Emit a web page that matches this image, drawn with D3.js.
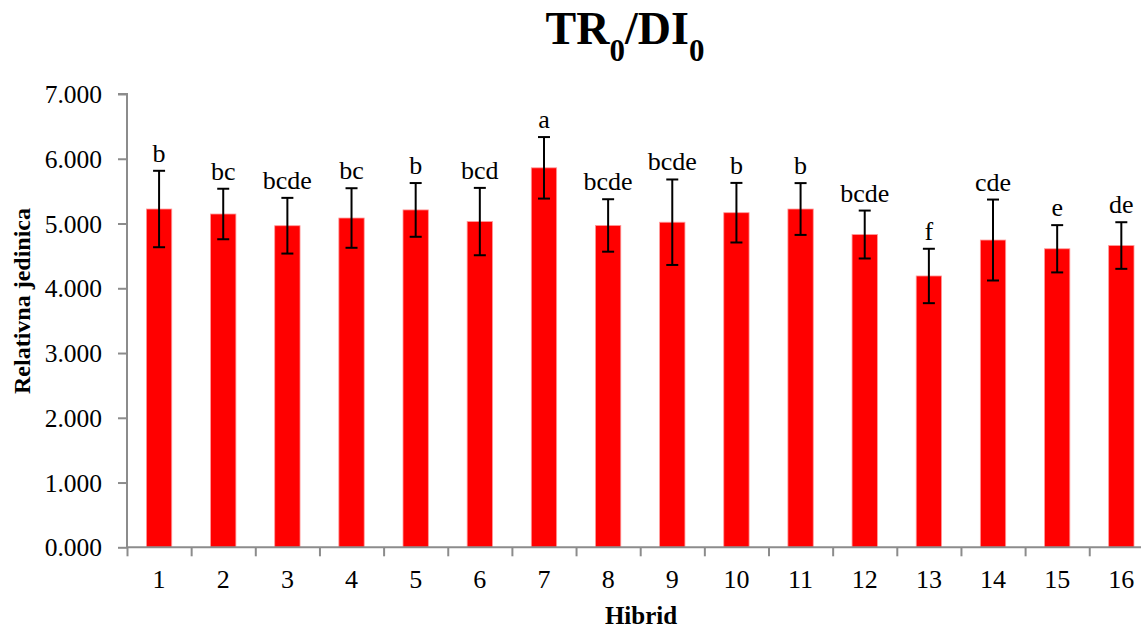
<!DOCTYPE html>
<html><head><meta charset="utf-8">
<script src="https://cdn.jsdelivr.net/npm/d3@7"></script>
<style>
html,body{margin:0;padding:0;background:#fff;}
svg{display:block;font-family:"Liberation Serif","Times New Roman",serif;}
</style></head>
<body>
<svg id="c" width="1141" height="629"></svg>
<script>
const categories = ["1","2","3","4","5","6","7","8","9","10","11","12","13","14","15","16"];
const values = [5.224,5.147,4.966,5.085,5.21,5.03,5.86,4.97,5.02,5.167,5.224,4.83,4.19,4.745,4.61,4.66];
const errors = [0.59,0.39,0.43,0.46,0.415,0.52,0.475,0.405,0.66,0.46,0.40,0.37,0.42,0.625,0.365,0.36];
const letters = ["b","bc","bcde","bc","b","bcd","a","bcde","bcde","b","b","bcde","f","cde","e","de"];
const yTicks = [0,1,2,3,4,5,6,7];

(function(){
const svg = d3.select("#c");
const pL = 127, pR = 1153.4, pT = 94, pB = 547.3;
const x = d3.scaleBand().domain(categories).range([pL, pR]).paddingInner(0).paddingOuter(0);
const xb = d3.scaleLinear().domain([0, categories.length]).range([pL, pR]);
const y = d3.scaleLinear().domain([0, 7]).range([pB, pT]);
const bw = x.bandwidth() * 0.395;
const axisColor = "#8c8c8c";
const serif = "'Liberation Serif','Times New Roman',serif";

// bars
svg.append("g").selectAll("rect").data(values).join("rect")
  .attr("x", (d,i) => x(categories[i]) + x.bandwidth()/2 - bw/2)
  .attr("y", d => y(d))
  .attr("width", bw)
  .attr("height", d => y(0) - y(d))
  .attr("fill", "#ff0000")
  .attr("stroke", "#ff9a9a")
  .attr("stroke-width", 0.8);

// error bars
const eg = svg.append("g").attr("stroke", "#000").attr("stroke-width", 2);
values.forEach((v,i) => {
  const cx = x(categories[i]) + x.bandwidth()/2;
  const t = y(v + errors[i]), b = y(v - errors[i]);
  eg.append("line").attr("x1", cx).attr("x2", cx).attr("y1", t).attr("y2", b);
  eg.append("line").attr("x1", cx-6).attr("x2", cx+6).attr("y1", t).attr("y2", t);
  eg.append("line").attr("x1", cx-6).attr("x2", cx+6).attr("y1", b).attr("y2", b);
});

// letters
svg.append("g").selectAll("text").data(letters).join("text")
  .attr("x", (d,i) => x(categories[i]) + x.bandwidth()/2)
  .attr("y", (d,i) => y(values[i] + errors[i]) - 9)
  .attr("text-anchor", "middle")
  .attr("font-size", 26)
  .attr("font-family", serif)
  .attr("fill", "#000")
  .text(d => d);

// y axis
const ya = svg.append("g").attr("transform", `translate(${pL},0)`)
  .call(d3.axisLeft(y).tickValues(yTicks).tickFormat(d3.format(".3f")).tickSize(9).tickPadding(16));
ya.attr("font-family", serif);
ya.select(".domain").attr("stroke", axisColor).attr("stroke-width", 2).attr("d", `M-9,${pT}H0V${pB}`);
ya.selectAll(".tick line").attr("stroke", axisColor).attr("stroke-width", 2);
ya.selectAll(".tick text").attr("font-size", 25.5).attr("font-family", serif).attr("fill", "#000").attr("dy", "0.34em");

// x axis
const xa = svg.append("g").attr("transform", `translate(0,${pB})`)
  .call(d3.axisBottom(xb).tickValues(d3.range(0, categories.length + 1)).tickFormat("").tickSize(9));
xa.select(".domain").attr("stroke", axisColor).attr("stroke-width", 2).attr("d", `M${pL},0H${pR}`);
xa.selectAll(".tick line").attr("stroke", axisColor).attr("stroke-width", 2);

const xl = svg.append("g").attr("transform", `translate(0,${pB})`)
  .call(d3.axisBottom(x).tickSize(0).tickPadding(22));
xl.attr("font-family", serif);
xl.select(".domain").remove();
xl.selectAll(".tick text").attr("font-size", 26).attr("font-family", serif).attr("fill", "#000");

// axis titles
svg.append("text").attr("x", 641).attr("y", 624).attr("text-anchor", "middle")
  .attr("font-family", serif).attr("font-size", 25).attr("font-weight", "bold").text("Hibrid");
svg.append("text").attr("transform", "translate(30,301) rotate(-90)").attr("text-anchor", "middle")
  .attr("font-family", serif).attr("font-size", 24).attr("font-weight", "bold").text("Relativna jedinica");

// title
const tt = svg.append("text").attr("x", 625).attr("y", 44).attr("text-anchor", "middle")
  .attr("font-family", serif).attr("font-size", 46).attr("font-weight", "bold");
tt.append("tspan").text("TR");
tt.append("tspan").attr("font-size", 31).attr("dy", 17).text("0");
tt.append("tspan").attr("dy", -17).text("/DI");
tt.append("tspan").attr("font-size", 31).attr("dy", 17).text("0");
})();
</script>
</body></html>
